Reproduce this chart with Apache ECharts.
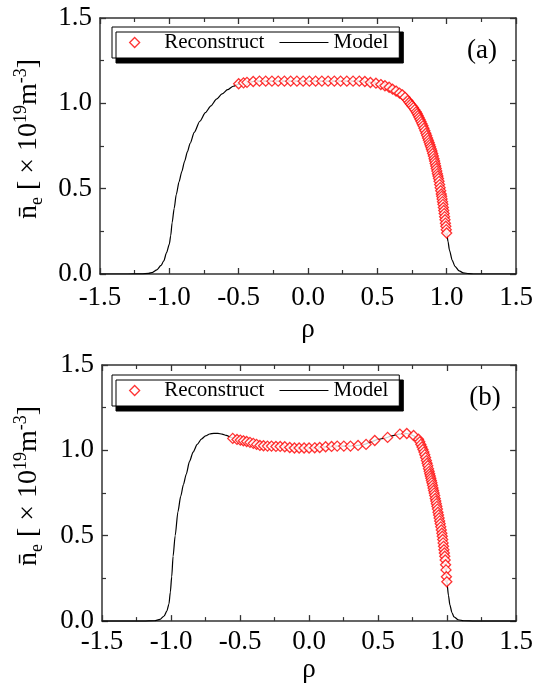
<!DOCTYPE html>
<html>
<head>
<meta charset="utf-8">
<script src="https://cdn.jsdelivr.net/npm/echarts@6/dist/echarts.min.js"></script>
<style>html,body{margin:0;padding:0;background:#fff}#c{width:536px;height:684px}</style>
</head>
<body>
<div id="c"></div>
<script>
// ---- Panel (a) data ----
const rhoModelA = [-1.5,-1.3,-1.2,-1.15,-1.12,-1.09,-1.06,-1.04,-1.02,-1.0,-0.99,-0.98,-0.965,-0.95,-0.93,-0.91,-0.89,-0.87,-0.85,-0.82,-0.78,-0.74,-0.7,-0.66,-0.62,-0.58,-0.54,-0.5,-0.46,-0.42,-0.38,0,0.38,0.42,0.46,0.5,0.54,0.58,0.62,0.66,0.7,0.74,0.78,0.82,0.85,0.88,0.9,0.92,0.94,0.96,0.98,0.99,1.0,1.01,1.02,1.04,1.06,1.09,1.12,1.16,1.2,1.3,1.5];
const neModelA = [0,0,0.001,0.004,0.01,0.024,0.05,0.077,0.125,0.175,0.225,0.3,0.385,0.465,0.54,0.6,0.66,0.715,0.765,0.83,0.895,0.945,0.985,1.025,1.055,1.08,1.1,1.113,1.12,1.126,1.13,1.13,1.13,1.127,1.122,1.117,1.108,1.095,1.08,1.06,1.035,0.995,0.95,0.885,0.825,0.755,0.705,0.63,0.56,0.46,0.35,0.295,0.24,0.19,0.14,0.08,0.045,0.018,0.007,0.002,0,0,0];
const rhoRecA = [-0.5,-0.465,-0.44,-0.395,-0.35,-0.305,-0.26,-0.215,-0.17,-0.125,-0.08,-0.035,0.01,0.055,0.1,0.145,0.19,0.235,0.28,0.325,0.37,0.41,0.45,0.49,0.525,0.555,0.585,0.61,0.635,0.66,0.68,0.7,0.72,0.73,0.74,0.75,0.76,0.77,0.78,0.787,0.794,0.801,0.808,0.815,0.822,0.829,0.836,0.843,0.85,0.856,0.862,0.868,0.874,0.879,0.884,0.889,0.894,0.899,0.904,0.909,0.913,0.917,0.921,0.925,0.929,0.933,0.937,0.941,0.945,0.949,0.953,0.957,0.961,0.964,0.967,0.97,0.973,0.976,0.979,0.982,0.985,0.988,0.991,0.994,0.997,1.0];
const neRecA = [1.115,1.12,1.123,1.128,1.13,1.13,1.13,1.13,1.13,1.13,1.13,1.13,1.13,1.13,1.13,1.13,1.13,1.13,1.13,1.13,1.13,1.128,1.122,1.118,1.11,1.103,1.094,1.083,1.072,1.06,1.05,1.035,1.016,1.005,0.995,0.985,0.975,0.963,0.95,0.94,0.929,0.917,0.905,0.893,0.881,0.868,0.854,0.84,0.825,0.811,0.797,0.783,0.77,0.758,0.746,0.733,0.72,0.706,0.691,0.676,0.662,0.648,0.633,0.618,0.603,0.588,0.574,0.56,0.543,0.524,0.506,0.488,0.469,0.455,0.44,0.424,0.408,0.39,0.372,0.354,0.336,0.318,0.298,0.28,0.26,0.24];

// ---- Panel (b) data ----
const rhoModelB = [-1.5,-1.2,-1.12,-1.08,-1.05,-1.03,-1.015,-1.005,-0.995,-0.985,-0.97,-0.95,-0.93,-0.91,-0.89,-0.866,-0.84,-0.81,-0.78,-0.75,-0.72,-0.69,-0.66,-0.63,-0.6,-0.56,-0.52,-0.48,-0.44,-0.4,-0.35,-0.3,-0.25,-0.2,-0.15,-0.1,-0.05,0,0.05,0.1,0.15,0.2,0.25,0.3,0.35,0.4,0.45,0.5,0.55,0.6,0.65,0.7,0.73,0.76,0.79,0.81,0.83,0.85,0.87,0.89,0.91,0.93,0.95,0.97,0.985,0.998,1.01,1.02,1.035,1.05,1.08,1.12,1.2,1.5];
const neModelB = [0,0,0.002,0.01,0.03,0.06,0.1,0.17,0.26,0.38,0.5,0.64,0.73,0.8,0.86,0.935,0.99,1.035,1.066,1.085,1.096,1.1,1.1,1.095,1.088,1.074,1.064,1.056,1.049,1.042,1.032,1.025,1.023,1.022,1.02,1.015,1.014,1.014,1.016,1.019,1.022,1.025,1.025,1.025,1.029,1.035,1.05,1.064,1.072,1.085,1.095,1.099,1.096,1.085,1.062,1.035,0.995,0.94,0.877,0.81,0.735,0.655,0.57,0.464,0.37,0.23,0.15,0.095,0.05,0.025,0.008,0.002,0,0];
const rhoRecB = [-0.553,-0.522,-0.498,-0.476,-0.452,-0.428,-0.404,-0.38,-0.356,-0.33,-0.301,-0.272,-0.24,-0.209,-0.176,-0.14,-0.106,-0.072,-0.036,0,0.041,0.077,0.12,0.163,0.204,0.252,0.3,0.355,0.413,0.476,0.569,0.658,0.708,0.757,0.793,0.802,0.81,0.818,0.825,0.832,0.838,0.844,0.85,0.855,0.86,0.865,0.87,0.874,0.878,0.882,0.886,0.89,0.894,0.898,0.902,0.906,0.91,0.914,0.918,0.922,0.926,0.93,0.934,0.938,0.942,0.946,0.95,0.954,0.958,0.962,0.965,0.968,0.971,0.974,0.977,0.98,0.983,0.986,0.989,0.992,0.995,0.998];
const neRecB = [1.07,1.064,1.06,1.056,1.052,1.047,1.041,1.035,1.029,1.027,1.025,1.025,1.023,1.023,1.021,1.017,1.014,1.014,1.014,1.014,1.015,1.017,1.021,1.023,1.025,1.025,1.025,1.029,1.035,1.058,1.076,1.095,1.099,1.087,1.065,1.05,1.035,1.02,1.005,0.99,0.975,0.958,0.94,0.925,0.91,0.893,0.877,0.863,0.85,0.837,0.823,0.81,0.795,0.78,0.765,0.75,0.735,0.718,0.703,0.688,0.672,0.656,0.638,0.621,0.604,0.587,0.57,0.552,0.534,0.515,0.497,0.478,0.458,0.438,0.418,0.399,0.38,0.358,0.33,0.3,0.26,0.23];

const seriesNames = ['Reconstruct', 'Model'];
const panelLabels = ['(a)', '(b)'];
const xName = 'ρ';
const X_MIN = -1.5, X_MAX = 1.5, X_STEP = 0.5;
const Y_MIN = 0, Y_MAX = 1.5, Y_STEP = 0.5;

const pairs = (xs, ys) => xs.map((x, i) => [x, ys[i]]);
const SERIF = '"Liberation Serif", "Times New Roman", serif';
const AX = '#333';

function xAxisCfg(grid, pos, labelMargin, nameGap) {
  const main = pos === 'bottom';
  return {
    gridIndex: grid, type: 'value', position: pos, min: X_MIN, max: X_MAX, interval: X_STEP,
    axisLine: { onZero: false, lineStyle: { color: AX, width: 1.5 } },
    axisTick: { inside: true, length: 6, lineStyle: { color: AX, width: 1.3 } },
    minorTick: { show: true, splitNumber: 2, length: 4, lineStyle: { color: AX, width: 1.2 } },
    splitLine: { show: false },
    axisLabel: { show: main, showMinLabel: true, showMaxLabel: true, fontFamily: SERIF, fontSize: 27, color: '#000', margin: labelMargin, formatter: v => v.toFixed(1) },
    name: main ? xName : '', nameLocation: 'middle', nameGap: nameGap,
    nameTextStyle: { fontFamily: SERIF, fontSize: 27, color: '#000' }
  };
}
function yAxisCfg(grid, pos) {
  const main = pos === 'left';
  return {
    gridIndex: grid, type: 'value', position: pos, min: Y_MIN, max: Y_MAX, interval: Y_STEP,
    axisLine: { onZero: false, lineStyle: { color: AX, width: 1.5 } },
    axisTick: { inside: true, length: 6, lineStyle: { color: AX, width: 1.3 } },
    minorTick: { show: true, splitNumber: 2, length: 4, lineStyle: { color: AX, width: 1.2 } },
    splitLine: { show: false },
    axisLabel: { show: main, showMinLabel: true, showMaxLabel: true, fontFamily: SERIF, fontSize: 27, color: '#000', margin: 8, formatter: v => v.toFixed(1) }
  };
}
function legendCfg(top) {
  return {
    left: 112, top: top, orient: 'horizontal',
    data: [
      { name: seriesNames[0], icon: 'path://M5,0L10,5L5,10L0,5Z', itemStyle: { color: '#fff', borderColor: '#ff0000', borderWidth: 1.3 } },
      { name: seriesNames[1], icon: 'path://M0,0L49,0L49,1.2L0,1.2Z', itemStyle: { color: '#000', borderWidth: 0 } }
    ],
    symbolKeepAspect: true,
    itemWidth: 49, itemHeight: 10, itemGap: 15,
    padding: [5, 11, 5, 17],
    backgroundColor: '#fff', borderColor: '#000', borderWidth: 1,
    shadowColor: '#000', shadowBlur: 0, shadowOffsetX: 4, shadowOffsetY: 5,
    textStyle: { fontFamily: SERIF, fontSize: 21, color: '#000' },
    selectedMode: false
  };
}
function recSeries(xi, yi, data) {
  return {
    name: seriesNames[0], type: 'scatter', xAxisIndex: xi, yAxisIndex: yi, data: data,
    symbol: 'diamond', symbolSize: 10, z: 5,
    itemStyle: { color: '#fff', borderColor: '#ff0000', borderWidth: 1.3 }
  };
}
function modelSeries(xi, yi, data) {
  return {
    name: seriesNames[1], type: 'line', xAxisIndex: xi, yAxisIndex: yi, data: data,
    symbol: 'none', showSymbol: false, smooth: 0.25, smoothMonotone: 'x', z: 3,
    lineStyle: { color: '#000', width: 1.2 }, itemStyle: { color: '#000' }
  };
}
const yNameRich = {
  b: { fontFamily: SERIF, fontSize: 28, lineHeight: 34, color: '#000' },
  sub: { fontFamily: SERIF, fontSize: 18, lineHeight: 16, verticalAlign: 'bottom', color: '#000' },
  sup: { fontFamily: SERIF, fontSize: 18, lineHeight: 16, verticalAlign: 'top', color: '#000' }
};
const yNameText = '{b|n\u0304}{sub|e}{b| [ \u00d7 10}{sup|19}{b|m}{sup|-3}{b|]}';
function yName(cy) {
  return { type: 'text', x: 29, y: cy, rotation: Math.PI / 2, silent: true,
    style: { text: yNameText, rich: yNameRich, fontFamily: SERIF, fontSize: 28, align: 'center', verticalAlign: 'middle' } };
}
function panelText(txt, x, y) {
  return { type: 'text', x: x, y: y, silent: true,
    style: { text: txt, fontFamily: SERIF, fontSize: 27, fill: '#000', align: 'center', verticalAlign: 'middle' } };
}

const chart = echarts.init(document.getElementById('c'), null, { renderer: 'canvas' });
chart.setOption({
  animation: false,
  backgroundColor: '#fff',
  textStyle: { fontFamily: SERIF },
  grid: [
    { left: 100, top: 18, width: 416, height: 256 },
    { left: 102, top: 365, width: 416, height: 258 }
  ],
  xAxis: [
    xAxisCfg(0, 'bottom', 10, 42),
    xAxisCfg(0, 'top', 0, 0),
    xAxisCfg(1, 'bottom', 7, 33),
    xAxisCfg(1, 'top', 0, 0)
  ],
  yAxis: [
    yAxisCfg(0, 'left'), yAxisCfg(0, 'right'),
    yAxisCfg(1, 'left'), yAxisCfg(1, 'right')
  ],
  legend: [legendCfg(27), legendCfg(375)],
  graphic: [
    yName(139), yName(486),
    panelText(panelLabels[0], 482, 51),
    panelText(panelLabels[1], 485, 398)
  ],
  series: [
    modelSeries(0, 0, pairs(rhoModelA, neModelA)),
    recSeries(0, 0, pairs(rhoRecA, neRecA)),
    modelSeries(2, 2, pairs(rhoModelB, neModelB)),
    recSeries(2, 2, pairs(rhoRecB, neRecB))
  ]
});
</script>
</body>
</html>
